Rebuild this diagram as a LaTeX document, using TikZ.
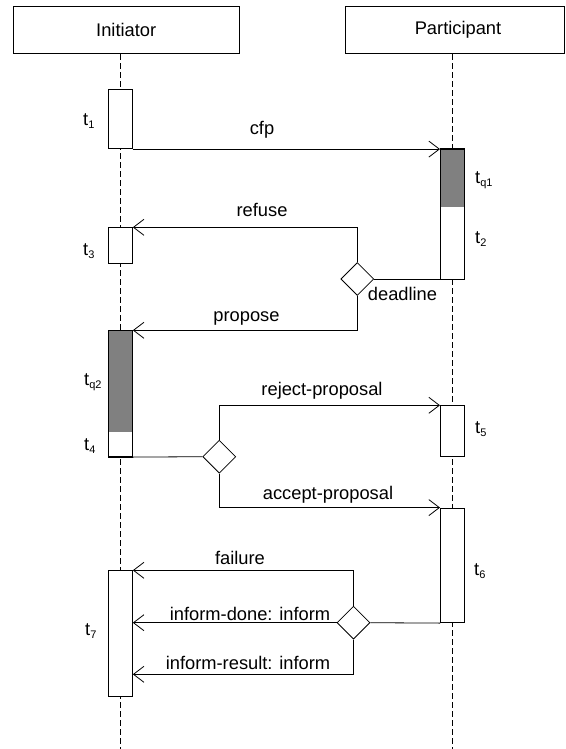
\documentclass[tikz,border=0pt]{standalone}
\usepackage{fontspec}
\setmainfont{Liberation Sans}
\usetikzlibrary{arrows.meta,shapes.geometric,calc}
\newcommand{\tlab}[1]{t\raisebox{-0.35ex}{\fontsize{11}{11}\selectfont #1}}
\begin{document}
\begin{tikzpicture}[x=1pt,y=-1pt,
  every node/.style={font=\fontsize{18.3}{21}\selectfont},
  head/.style={draw,line width=0.8pt,inner sep=0pt,minimum height=47.7pt},
  act/.style={draw,fill=white,line width=0.8pt,inner sep=0pt,minimum width=24pt},
  dia/.style={draw,fill=white,line width=0.8pt,diamond,inner sep=0pt,minimum width=33pt,minimum height=33pt},
  life/.style={line width=0.8pt,dash pattern=on 6pt off 3pt},
  conn/.style={line width=0.8pt},
  msg/.style={line width=0.8pt,-{Straight Barb[length=10.5pt,width=16pt,line width=0.8pt]}},
  lbl/.style={anchor=base,inner sep=0pt},
  tlb/.style={anchor=base west,inner sep=0pt},
  shadecol/.style={fill=black!50}
]
\useasboundingbox (0,0) rectangle (565,749);
% headers
\node[head,minimum width=225.7pt] (hi) at (126.2,29.9) {Initiator};
\node[head,minimum width=219pt] (hp) at (454.5,29.9) {\hspace*{7pt}Participant};
% lifeline end points
\coordinate (ie) at (120.4,749);
\coordinate (pe) at (452.4,749);
\draw[life] (hi.south -| ie) -- (ie);
\draw[life] (hp.south -| pe) -- (pe);
% activation boxes
\node[act,minimum height=59.4pt] (b1) at (120.4,119) {};
\node[act,minimum height=130pt,path picture={\fill[shadecol] (path picture bounding box.north west) rectangle ([yshift=-58pt]path picture bounding box.north east);}] (bq1) at (452.4,214) {};
\draw[line width=0.8pt] (bq1.north west) rectangle (bq1.south east);
\node[act,minimum height=35.3pt] (b3) at (120.4,245.35) {};
\node[act,minimum height=126pt,path picture={\fill[shadecol] (path picture bounding box.north west) rectangle ([yshift=-101.6pt]path picture bounding box.north east);}] (b4) at (120.4,393.7) {};
\draw[line width=0.8pt] (b4.north west) rectangle (b4.south east);
\node[act,minimum height=51pt] (b5) at (452.4,431.2) {};
\node[act,minimum height=114.7pt] (b6) at (452.4,565.35) {};
\node[act,minimum height=126pt] (b7) at (120.4,633.7) {};
% decision diamonds
\node[dia] (d1) at (357.3,279) {};
\node[dia] (d2) at (219.3,456.7) {};
\node[dia] (d3) at (353.5,622.7) {};
\coordinate (rr) at (353.5,674.3);
% connectors
\draw[msg] (b1.south east) -- (b1.south east -| bq1.west);
\draw[msg] (d1.north) |- (b3.north east);
\draw[msg] (d1.south) |- (b4.north east);
\draw[conn] (d1.east) -- (d1.east -| bq1.west);
\draw[conn] (b4.south east) -- (d2.west);
\draw[msg] (d2.north) |- (b5.north west);
\draw[msg] (d2.south) |- (b6.north west);
\draw[conn] (b6.south west) -- (d3.east);
\draw[msg] (d3.north) |- (b7.north east);
\draw[msg] (d3.west) -- (d3.west -| b7.east);
\draw[msg] (d3.south) -- (rr) -- (rr -| b7.east);
% message labels
\node[lbl] (lcfp) at (262,135) {cfp};
\node[lbl] (lref) at (262,216.7) {refuse};
\node[lbl] (lprop) at (246.5,321.7) {propose};
\node[lbl] (ldead) at (402.5,300.7) {deadline};
\node[lbl] (lrej) at (322,395.7) {reject-proposal};
\node[lbl] (lacc) at (328,499) {accept-proposal};
\node[lbl] (lfail) at (240,564) {failure};
\node[lbl] (ldone) at (250,620) {inform-done: inform};
\node[lbl] (lres) at (248,669) {inform-result: inform};
% time labels
\node[tlb] (t1) at (83,125) {\tlab{1}};
\node[tlb] (tq1) at (475,183) {\tlab{q1}};
\node[tlb] (t2) at (475,243) {\tlab{2}};
\node[tlb] (t3) at (83,255) {\tlab{3}};
\node[tlb] (tq2) at (84,385) {\tlab{q2}};
\node[tlb] (t4) at (84,450) {\tlab{4}};
\node[tlb] (t5) at (475,433) {\tlab{5}};
\node[tlb] (t6) at (474,575) {\tlab{6}};
\node[tlb] (t7) at (85,635) {\tlab{7}};
\end{tikzpicture}
\end{document}
